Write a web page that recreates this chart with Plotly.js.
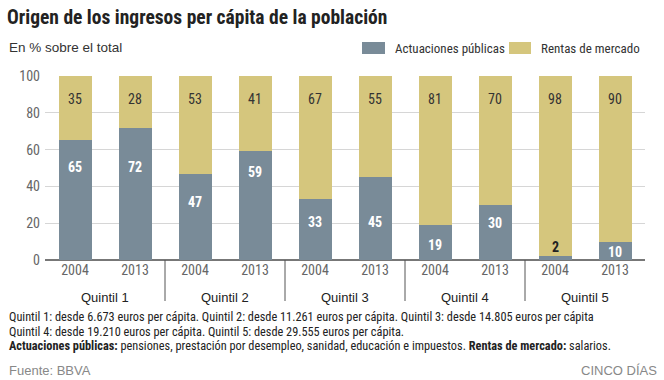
<!DOCTYPE html>
<html>
<head>
<meta charset="utf-8">
<script src="https://cdn.plot.ly/plotly-3.0.1.min.js"></script>
<style>html,body{margin:0;padding:0;background:#fff;}#chart{width:664px;height:380px;}</style>
</head>
<body>
<div id="chart"></div>
<script>
// ---- Data ----
const quintiles = ["Quintil 1", "Quintil 2", "Quintil 3", "Quintil 4", "Quintil 5"];
const years = ["2004", "2013"];
const publicShare = [65, 72, 47, 59, 33, 45, 19, 30, 2, 10];   // Actuaciones públicas
const marketShare = [35, 28, 53, 41, 67, 55, 81, 70, 98, 90];  // Rentas de mercado
const yTicks = [0, 20, 40, 60, 80, 100];

// ---- Styling / placement ----
const FONT = "'Liberation Sans Narrow', 'Arial Narrow', 'Roboto Condensed', sans-serif";
const SANS = "'Liberation Sans', Arial, Helvetica, sans-serif";
const C_PUB = "#798b98";
const C_MKT = "#d5c67d";
const L = 45, R = 645, T = 76, B = 260;   // plot area in pixels
const px = x => (x - L) / (R - L);
const py = y => (B - y) / (B - T);
// label heights used by the original design (data units)
const pubLabelY = [50.5, 50.5, 31.5, 48, 20.6, 20.6, 8, 20, 7, 4.3];
const mktLabelY = 87.5;

const n = publicShare.length;
const idx = publicShare.map((_, i) => i);
const tickText = idx.map(i => years[i % years.length]);

const traces = [
  {type: "bar", x: idx, y: publicShare, name: "Actuaciones públicas",
   marker: {color: C_PUB}, width: 0.55, hoverinfo: "y"},
  {type: "bar", x: idx, y: marketShare, name: "Rentas de mercado",
   marker: {color: C_MKT}, width: 0.55, hoverinfo: "y"}
];

const annotations = [];
const shapes = [];

idx.forEach(i => {
  annotations.push({x: i, y: mktLabelY, xref: "x", yref: "y", yanchor: "middle", text: String(marketShare[i]),
    showarrow: false, font: {family: FONT, size: 14, color: "#333"}});
  const small = publicShare[i] < 5;
  annotations.push({x: i, y: pubLabelY[i], xref: "x", yref: "y", yanchor: "middle",
    text: "<b>" + publicShare[i] + "</b>", showarrow: false,
    font: {family: FONT, size: 14, color: small ? "#222" : "#fff"}});
});

quintiles.forEach((q, k) => {
  annotations.push({x: k * 2 + 0.5, y: py(297), xref: "x", yref: "paper", yanchor: "middle", text: q,
    showarrow: false, font: {family: SANS, size: 13, color: "#222"}});
  if (k > 0) {
    shapes.push({type: "line", xref: "x", yref: "paper", x0: k * 2 - 0.5, x1: k * 2 - 0.5,
      y0: 0, y1: py(301), line: {color: "#555", width: 1}});
  }
});

// legend
shapes.push({type: "rect", xref: "paper", yref: "paper", x0: px(362), x1: px(385), y0: py(54), y1: py(42),
  fillcolor: C_PUB, line: {width: 0}});
shapes.push({type: "rect", xref: "paper", yref: "paper", x0: px(509), x1: px(531), y0: py(54), y1: py(42),
  fillcolor: C_MKT, line: {width: 0}});
annotations.push({x: px(393), y: py(48), xref: "paper", yref: "paper", xanchor: "left", yanchor: "middle",
  text: traces[0].name, showarrow: false, font: {family: FONT, size: 13, color: "#333"}});
annotations.push({x: px(539), y: py(48), xref: "paper", yref: "paper", xanchor: "left", yanchor: "middle",
  text: traces[1].name, showarrow: false, font: {family: FONT, size: 13, color: "#333"}});

// subtitle
annotations.push({x: px(7), y: py(47), xref: "paper", yref: "paper", xanchor: "left", yanchor: "middle",
  text: "En % sobre el total", showarrow: false, font: {family: SANS, size: 13.5, color: "#333"}});

// notes
const notes = [
  "Quintil 1: desde 6.673 euros per cápita. Quintil 2: desde 11.261 euros per cápita. Quintil 3: desde 14.805 euros per cápita",
  "Quintil 4: desde 19.210 euros per cápita. Quintil 5: desde 29.555 euros per cápita.",
  "<b>Actuaciones públicas:</b> pensiones, prestación por desempleo, sanidad, educación e impuestos. <b>Rentas de mercado:</b> salarios."
];
notes.forEach((t, k) => {
  annotations.push({x: px(7), y: py(317 + k * 14.5), xref: "paper", yref: "paper", xanchor: "left", yanchor: "middle",
    text: t, showarrow: false, font: {family: FONT, size: 12.3, color: "#222"}});
});
annotations.push({x: px(7), y: py(370), xref: "paper", yref: "paper", xanchor: "left", yanchor: "middle",
  text: "Fuente: BBVA", showarrow: false, font: {family: SANS, size: 13, color: "#888"}});
annotations.push({x: px(659), y: py(370), xref: "paper", yref: "paper", xanchor: "right", yanchor: "middle",
  text: "CINCO DÍAS", showarrow: false, font: {family: SANS, size: 13, color: "#888"}});

const layout = {
  width: 664, height: 380,
  margin: {l: L, r: 664 - R, t: T, b: 380 - B, pad: 0},
  paper_bgcolor: "#fff", plot_bgcolor: "#fff",
  barmode: "stack",
  showlegend: false,
  title: {text: "<b>Origen de los ingresos per cápita de la población</b>", x: 7 / 664, xanchor: "left",
    y: 1 - 17 / 380, yanchor: "middle", font: {family: FONT, size: 19.5, color: "#222"}},
  xaxis: {range: [-0.5, n - 0.5], tickmode: "array", tickvals: idx, ticktext: tickText,
    showgrid: false, zeroline: false, showline: false, ticks: "",
    tickfont: {family: FONT, size: 14, color: "#666"}, fixedrange: true},
  yaxis: {range: [0, 100], tickmode: "array", tickvals: yTicks, showgrid: true, gridcolor: "#d6d6d6",
    gridwidth: 1, zeroline: true, zerolinecolor: "#777", zerolinewidth: 1.2, showline: false, ticks: "",
    ticklabelstandoff: 4, tickfont: {family: FONT, size: 14, color: "#666"}, fixedrange: true},
  annotations: annotations,
  shapes: shapes
};

Plotly.newPlot("chart", traces, layout, {displayModeBar: false, staticPlot: true});
</script>
</body>
</html>
